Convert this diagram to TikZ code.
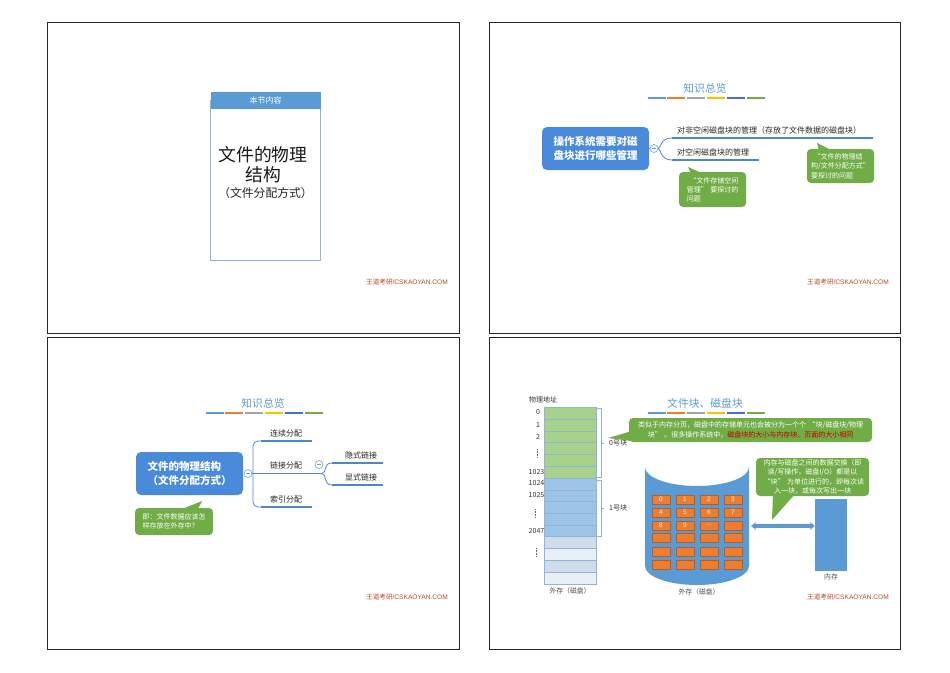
\documentclass[tikz,border=0pt]{standalone}
\usepackage{fontspec}
\setmainfont{Noto Sans CJK SC}
\newfontfamily\wmfont{Liberation Sans}
\usetikzlibrary{arrows.meta}
\definecolor{bluehead}{HTML}{5B9BD5}
\definecolor{mapblue}{HTML}{4A8ADB}
\definecolor{mapline}{HTML}{4F86C6}
\definecolor{calloutgreen}{HTML}{70AD47}
\definecolor{cellorange}{HTML}{ED7D31}
\definecolor{wmred}{HTML}{B8482A}
\definecolor{rowgreen}{HTML}{A9D18E}
\definecolor{rowblue}{HTML}{9DC3E6}
\definecolor{rowpale}{HTML}{D0DCEC}
\definecolor{rowpaler}{HTML}{E9EFF7}
\definecolor{rowline}{HTML}{8FB4DC}
\definecolor{redtext}{HTML}{C00000}
\definecolor{bargray}{HTML}{A5A5A5}
\definecolor{baryellow}{HTML}{FFC000}
\definecolor{barblue}{HTML}{4472C4}
\newcommand{\fs}[1]{\fontsize{#1}{#1}\selectfont}
\newcommand{\zlq}{\hspace{2.5pt}^^^^201c}
\newcommand{\zrq}{^^^^201d\hspace{2.5pt}}
\tikzset{
  x=1pt,y=-1pt,
  panel/.style={draw=black!85,line width=0.7pt,fill=white},
  wm/.style={inner sep=0pt,text=wmred,font=\fs{6.6}},
  maptitle/.style={inner sep=0pt,text=bluehead,font=\fs{10.8}},
  mainbox/.style={rectangle,rounded corners=5pt,fill=mapblue,text=white,inner sep=0pt,align=center,font=\fs{10.5}\bfseries},
  fold/.style={circle,draw=mapline!80,fill=white,line width=0.6pt,minimum size=8pt,inner sep=0pt,
    path picture={\draw[mapline!80,line width=0.5pt] ([xshift=-2pt]path picture bounding box.center) -- ([xshift=2pt]path picture bounding box.center);}},
  branchtext/.style={inner sep=0pt,text=black!85,font=\fs{8}},
  branch/.style={draw=mapline,line width=1.8pt},
  stem/.style={draw=mapline,line width=0.8pt},
  note/.style={rectangle,rounded corners=4pt,fill=calloutgreen,text=white,inner sep=0pt,align=center,font=\fs{7}},
  tail/.style={fill=calloutgreen},
  rowlabel/.style={inner sep=0pt,text=black!80,font=\fs{7}},
  caption/.style={inner sep=0pt,text=black!70,font=\fs{6.8}},
  brace/.style={draw=rowline,line width=0.7pt},
  cell/.style={rectangle,fill=cellorange,draw=cellorange!75!black,line width=0.5pt,minimum width=18pt,minimum height=9pt,inner sep=0pt,text=white!85!orange,font=\fs{6.5}\wmfont},
  row/.style={draw=rowline,line width=0.7pt},
  vdots/.style={draw=black!60,line width=0.7pt,dash pattern=on 0.8pt off 0.8pt},
}
\begin{document}
\begin{tikzpicture}
\useasboundingbox (0,0) rectangle (950,672);
\fill[white] (0,0) rectangle (950,672);
% panels
\draw[panel] (47.5,22.5) rectangle (459,333);
\draw[panel] (489.5,22.5) rectangle (900,333);
\draw[panel] (47.5,337.5) rectangle (459,649);
\draw[panel] (489.5,337.5) rectangle (900,649);
% watermarks
\node[wm,anchor=west] (wm1) at (366,282) {王道考研{\wmfont /CSKAOYAN.COM}};
\node[wm,anchor=west] (wm2) at (807,282) {王道考研{\wmfont /CSKAOYAN.COM}};
\node[wm,anchor=west] (wm3) at (366,597) {王道考研{\wmfont /CSKAOYAN.COM}};
\node[wm,anchor=west] (wm4) at (807,597) {王道考研{\wmfont /CSKAOYAN.COM}};
% colour bars
\foreach \ox/\oy in {648/98,206/413,648/413}{
  \foreach \a/\b/\c in {0/18/bluehead,19/37/cellorange,39/57/bargray,59/77/baryellow,78.5/97/barblue,99/117/calloutgreen}{
    \fill[\c] (\ox+\a,\oy-1.1) rectangle (\ox+\b,\oy+1.1);
  }
}
% ---------- panel 1
\draw[draw=rowline,line width=0.9pt,fill=white] (210.5,100) rectangle (320.5,260);
\node[rectangle,fill=bluehead,minimum width=110pt,minimum height=17.5pt,inner sep=0pt,text=white,font=\fs{8}] (head1) at (265.5,100.5) {本节内容};
\node[inner sep=0pt,text=black!90,font=\fs{17.8},align=center] (t1a) at (263,164.5) {文件的物理\\[2pt]结构};
\node[inner sep=0pt,text=black!85,font=\fs{11.8}] (t1b) at (265.5,193) {^^^^ff08文件分配方式^^^^ff09};
% ---------- panel 2
\node[maptitle] (title2) at (705,88) {知识总览};
\node[mainbox,minimum width=107pt,minimum height=43pt] (m2) at (595.5,148.5) {操作系统需要对磁\\[4pt]盘块进行哪些管理};
\node[fold] (c2) at (654,148.5) {};
\coordinate (b2a) at (672,138);
\coordinate (b2ae) at (873,138);
\coordinate (b2b) at (672,160);
\coordinate (b2be) at (759,160);
\draw[stem] (m2.east) -- (c2.west);
\draw[stem] (c2.east) .. controls (661,148) and (660,138) .. (b2a);
\draw[stem] (c2.east) .. controls (661,149) and (660,160) .. (b2b);
\draw[branch] (b2a) -- (b2ae);
\draw[branch] (b2b) -- (b2be);
\node[branchtext,anchor=west] (n2a) at (677,130) {对非空闲磁盘块的管理^^^^ff08存放了文件数据的磁盘块^^^^ff09};
\node[branchtext,anchor=west] (n2b) at (677,152) {对空闲磁盘块的管理};
\fill[tail] (688,167) -- (691,174) -- (704,174) -- cycle;
\node[note,minimum width=67pt,minimum height=35pt,align=left] (note2a) at (712.5,189.5) {\zlq 文件存储空间\\[2pt]管理\zrq 要探讨的\\[2pt]问题};
\fill[tail] (817,143) -- (819,151) -- (833,151) -- cycle;
\node[note,minimum width=67pt,minimum height=34pt,align=left] (note2b) at (840.5,166) {\zlq 文件的物理结\\[2pt]构/文件分配方式\zrq\\[2pt]要探讨的问题};
% ---------- panel 3
\node[maptitle] (title3) at (263,403) {知识总览};
\node[mainbox,minimum width=107pt,minimum height=43pt,align=left] (m3) at (189.5,473.5) {文件的物理结构\\[4pt]^^^^ff08文件分配方式^^^^ff09};
\node[fold] (c3) at (248,473.5) {};
\coordinate (b3a) at (261,441);
\coordinate (b3ae) at (312,441);
\coordinate (b3b) at (261,473.5);
\coordinate (b3be) at (312,473.5);
\coordinate (b3c) at (261,507);
\coordinate (b3ce) at (312,507);
\draw[stem] (c3.east) -- (b3b);
\draw[stem,rounded corners=5pt] (b3a) -- (253,441) -- (253,507) -- (b3c);
\draw[branch] (b3a) -- (b3ae);
\draw[branch] (b3b) -- (b3be);
\draw[branch] (b3c) -- (b3ce);
\node[branchtext] (n3a) at (286,433) {连续分配};
\node[branchtext] (n3b) at (286,465) {链接分配};
\node[branchtext] (n3c) at (286,499) {索引分配};
\node[fold] (c3b) at (319,464.5) {};
\coordinate (b3d) at (332,463);
\coordinate (b3de) at (383,463);
\coordinate (b3e) at (332,485);
\coordinate (b3ee) at (383,485);
\draw[stem] (b3be) -- (322,473.5);
\draw[stem] (322,473.5) .. controls (327,473) and (323,463) .. (b3d);
\draw[stem] (322,473.5) .. controls (327,474) and (323,485) .. (b3e);
\draw[branch] (b3d) -- (b3de);
\draw[branch] (b3e) -- (b3ee);
\node[branchtext] (n3d) at (361,455) {隐式链接};
\node[branchtext] (n3e) at (361,477) {显式链接};
\fill[tail] (202,501) -- (182,509) -- (198,509) -- cycle;
\node[note,minimum width=78pt,minimum height=27pt,align=left] (note3) at (174,521.5) {即^^^^ff1a文件数据应该怎\\[2pt]样存放在外存中^^^^ff1f};
% ---------- panel 4: block column
\node[rowlabel] (addr) at (543,400) {物理地址};
\foreach \i in {0,...,5}{
  \draw[row,fill=rowgreen] (544.5,407.3+\i*11.83) rectangle (596,407.3+\i*11.83+11.83);
}
\foreach \i in {0,...,4}{
  \draw[row,fill=rowblue] (544.5,478.3+\i*11.65) rectangle (596,478.3+\i*11.65+11.65);
}
\draw[row,fill=rowpale] (544.5,536.7) rectangle (596,548.5);
\draw[row,fill=rowpaler] (544.5,548.5) rectangle (596,560.2);
\draw[row,fill=rowpale] (544.5,560.2) rectangle (596,572);
\draw[row,fill=rowpaler] (544.5,572) rectangle (596,584);
\foreach \t/\x/\y in {0/538/412,1/538/425,2/538/437,1023/536.5/472,1024/536.5/483,1025/536.5/495,2047/536.5/531}{
  \node[rowlabel] at (\x,\y) {\t};
}
\draw[vdots] (537.5,449) -- (537.5,458);
\draw[vdots] (535.5,509) -- (535.5,518);
\draw[vdots] (536.5,548) -- (536.5,557);
\draw[brace] (597,408) -- (601,408) -- (601,477) -- (597,477);
\draw[brace] (601,443) -- (604,443);
\node[rowlabel,anchor=west] (blk0) at (609,443) {0号块};
\draw[brace] (597,480) -- (601,480) -- (601,536) -- (597,536);
\draw[brace] (601,508) -- (604,508);
\node[rowlabel,anchor=west] (blk1) at (609,508) {1号块};
\node[caption] (cap4a) at (570,591) {外存^^^^ff08磁盘^^^^ff09};
% title and first callout
\node[maptitle] (title4) at (705,403) {文件块^^^^3001磁盘块};
\fill[tail] (608,438) -- (632,431) -- (632,441) -- cycle;
\node[note,minimum width=243pt,minimum height=24pt] (note4a) at (750.5,430) {类似于内存分页^^^^ff0c磁盘中的存储单元也会被分为一个个\zlq 块/磁盘块/物理\\[1.5pt]块\zrq ^^^^3002很多操作系统中^^^^ff0c{\color{redtext}磁盘块的大小与内存块^^^^3001页面的大小相同}};
% disk
\coordinate (disk) at (751,526);
\fill[bluehead] (645,467) arc[start angle=180,end angle=360,x radius=52,y radius=-19] -- (749,566) arc[start angle=0,end angle=-180,x radius=52,y radius=-19] -- cycle;
\node[cell] at (661,499.5) {0};
\node[cell] at (685,499.5) {1};
\node[cell] at (709,499.5) {2};
\node[cell] at (733,499.5) {3};
\node[cell] at (661,512.5) {4};
\node[cell] at (685,512.5) {5};
\node[cell] at (709,512.5) {6};
\node[cell] at (733,512.5) {7};
\node[cell] at (661,525.5) {8};
\node[cell] at (685,525.5) {9};
\node[cell] at (709,525.5) {...};
\node[cell] at (733,525.5) {};
\foreach \y in {537.5,551.5,564.5}{
  \foreach \x in {661,685,709,733}{
    \node[cell] at (\x,\y) {};
  }
}
\node[caption] (cap4b) at (699,592) {外存^^^^ff08磁盘^^^^ff09};
% memory
\node[rectangle,fill=bluehead,minimum width=32pt,minimum height=72pt,inner sep=0pt] (mem) at (831,535) {};
\node[caption] (cap4c) at (831,577) {内存};
\draw[bluehead,line width=3.5pt,{Stealth[length=5pt,width=8pt]}-{Stealth[length=5pt,width=8pt]}] (disk) -- (mem.west |- disk);
% second callout
\fill[tail] (772,520) -- (773,494) -- (795,494) -- cycle;
\node[note,minimum width=113pt,minimum height=38pt] (note4b) at (812.5,477) {内存与磁盘之间的数据交换^^^^ff08即\\[2pt]读/写操作^^^^ff0c磁盘I/O^^^^ff09都是以\\[2pt]\zlq 块\zrq 为单位进行的^^^^ff0c即每次读\\[2pt]入一块^^^^ff0c或每次写出一块};
\end{tikzpicture}
\end{document}
